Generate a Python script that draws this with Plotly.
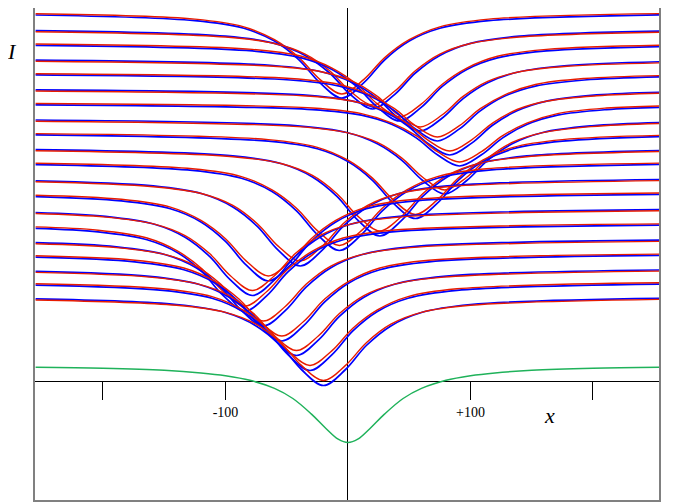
import plotly.graph_objects as go

# profiles I(x), stacked; one blue and one red curve per frame (top frame first)
xs = [
    [-255, -125, -85, -60, -40, -23, -5, 13, 30, 50, 75, 115, 255],
    [-255, -100, -60, -35, -15, 2, 20, 38, 55, 75, 100, 140, 255],
    [-255, -78, -38, -13, 7, 24, 42, 60, 77, 97, 122, 162, 255],
    [-255, -61, -21, 4, 24, 41, 59, 77, 94, 114, 139, 179, 255],
    [-255, -47, -7, 18, 38, 55, 73, 91, 108, 128, 153, 193, 255],
    [-255, -37, 3, 28, 48, 65, 83, 101, 118, 138, 163, 203, 255],
    [-255, -29, 11, 36, 56, 73, 91, 109, 126, 146, 171, 211, 255],
    [-255, -41, -1, 24, 44, 61, 79, 97, 114, 134, 159, 199, 255],
    [-255, -65, -25, 0, 20, 37, 55, 73, 90, 110, 135, 175, 255],
    [-255, -94, -54, -29, -9, 8, 26, 44, 61, 81, 106, 146, 255],
    [-255, -127, -87, -62, -42, -25, -7, 11, 28, 48, 73, 113, 255],
    [-255, -159, -119, -94, -74, -57, -39, -21, -4, 16, 41, 81, 255],
    [-255, -185, -145, -120, -100, -83, -65, -47, -30, -10, 15, 55, 255],
    [-255, -198, -158, -133, -113, -96, -78, -60, -43, -23, 2, 42, 255],
    [-255, -204, -164, -139, -119, -102, -84, -66, -49, -29, -4, 36, 255],
    [-255, -189, -149, -124, -104, -87, -69, -51, -34, -14, 11, 51, 255],
    [-255, -174, -134, -109, -89, -72, -54, -36, -19, 1, 26, 66, 255],
    [-255, -162, -122, -97, -77, -60, -42, -24, -7, 13, 38, 78, 255],
    [-255, -151, -111, -86, -66, -49, -31, -13, 4, 24, 49, 89, 255],
    [-255, -140, -100, -75, -55, -38, -20, -2, 15, 35, 60, 100, 255],
]

blue = [
    [366.0, 360.3, 352.7, 339.9, 321.2, 298.3, 283, 298.3, 321.2, 339.9, 352.7, 360.3, 366.1],
    [350.4, 344.8, 337.6, 325.6, 308, 286.4, 272, 286.4, 308, 325.6, 337.6, 344.8, 349.9],
    [335.7, 330.1, 323.1, 311.6, 294.6, 273.9, 260, 273.9, 294.6, 311.6, 323.1, 330.1, 334.5],
    [320.9, 315.5, 309, 298.2, 282.4, 263, 250, 263, 282.4, 298.2, 309, 315.5, 319.3],
    [306.1, 301, 294.9, 284.9, 270.1, 252.1, 240, 252.1, 270.1, 284.9, 294.9, 301, 304.1],
    [291.1, 286.1, 280.1, 270.2, 255.7, 237.9, 226, 237.9, 255.7, 270.2, 280.1, 286.1, 288.8],
    [276.2, 271.4, 265.8, 256.5, 242.9, 226.2, 215, 226.2, 242.9, 256.5, 265.8, 271.4, 273.7],
    [261, 255.2, 248.5, 237.2, 220.7, 200.5, 187, 200.5, 220.7, 237.2, 248.5, 255.2, 258.5],
    [246.2, 239.8, 232.2, 219.4, 200.7, 177.8, 162.5, 177.8, 200.7, 219.4, 232.2, 239.8, 244.4],
    [231.3, 225.1, 217.2, 204, 184.6, 160.8, 145, 160.8, 184.6, 204, 217.2, 225.1, 230.5],
    [216.4, 210.6, 202.7, 189.5, 170.1, 146.3, 130.5, 146.3, 170.1, 189.5, 202.7, 210.6, 216.6],
    [200.2, 195.1, 187.2, 174, 154.6, 130.8, 115, 130.8, 154.6, 174, 187.2, 195.1, 201.5],
    [184.4, 180.1, 172.2, 159, 139.6, 115.8, 100, 115.8, 139.6, 159, 172.2, 180.1, 186.7],
    [168.5, 164.7, 156.8, 143.8, 124.6, 101.2, 85.5, 101.2, 124.6, 143.8, 156.8, 164.7, 171.3],
    [152.7, 149.2, 141.3, 128.3, 109.1, 85.7, 70, 85.7, 109.1, 128.3, 141.3, 149.2, 155.9],
    [138.3, 134.2, 126.3, 113.3, 94.1, 70.7, 55, 70.7, 94.1, 113.3, 126.3, 134.2, 140.8],
    [123.9, 119.2, 111.3, 98.3, 79.1, 55.7, 40, 55.7, 79.1, 98.3, 111.3, 119.2, 125.6],
    [109.7, 104.7, 96.8, 83.8, 64.6, 41.2, 25.5, 41.2, 64.6, 83.8, 96.8, 104.7, 111],
    [95.9, 90.6, 82.7, 69.5, 50.1, 26.3, 10.5, 26.3, 50.1, 69.5, 82.7, 90.6, 96.9],
    [82.1, 76.5, 68.5, 55.1, 35.5, 11.5, -4.5, 11.5, 35.5, 55.1, 68.5, 76.5, 82.7],
]

red = [
    [367.3, 361.9, 354.2, 341.3, 323.4, 301.6, 287, 301.6, 323.4, 341.3, 354.2, 361.9, 367.4],
    [349.3, 344.0, 337.5, 326.9, 310.2, 289.7, 276, 289.7, 310.2, 326.9, 337.5, 344.0, 348.8],
    [337.0, 331.6, 324.7, 312.9, 296.8, 277.1, 264, 277.1, 296.8, 312.9, 324.7, 331.6, 335.8],
    [319.8, 314.7, 309.0, 299.6, 284.6, 266.2, 254, 266.2, 284.6, 299.6, 309.0, 314.7, 318.2],
    [307.3, 302.5, 296.5, 286.2, 272.3, 255.3, 244, 255.3, 272.3, 286.2, 296.5, 302.5, 305.4],
    [290.0, 285.2, 280.0, 271.5, 257.9, 241.2, 230, 241.2, 257.9, 271.5, 280.0, 285.2, 287.8],
    [277.5, 273.0, 267.4, 257.9, 245.1, 229.4, 219, 229.4, 245.1, 257.9, 267.4, 273.0, 275.1],
    [259.8, 254.4, 248.4, 238.6, 222.9, 203.8, 191, 203.8, 222.9, 238.6, 248.4, 254.4, 257.5],
    [247.4, 241.4, 233.7, 220.8, 202.9, 181.1, 166.5, 181.1, 202.9, 220.8, 233.7, 241.4, 245.7],
    [230.2, 224.3, 217.3, 205.6, 187.3, 164.9, 150, 164.9, 187.3, 205.6, 217.3, 224.3, 229.5],
    [217.7, 212.2, 204.4, 191.1, 172.8, 150.4, 135.5, 150.4, 172.8, 191.1, 204.4, 212.2, 217.9],
    [199.2, 194.3, 187.3, 175.6, 157.3, 134.9, 120, 134.9, 157.3, 175.6, 187.3, 194.3, 200.4],
    [185.8, 181.7, 173.9, 160.6, 142.3, 119.9, 105, 119.9, 142.3, 160.6, 173.9, 181.7, 188.0],
    [167.5, 163.9, 156.9, 145.4, 127.4, 105.3, 90.5, 105.3, 127.4, 145.4, 156.9, 163.9, 170.2],
    [154.1, 150.8, 143.0, 129.9, 111.9, 89.8, 75, 89.8, 111.9, 129.9, 143.0, 150.8, 157.1],
    [137.3, 133.4, 126.4, 114.9, 96.9, 74.8, 60, 74.8, 96.9, 114.9, 126.4, 133.4, 139.6],
    [125.2, 120.8, 113.0, 99.9, 81.9, 59.8, 45, 59.8, 81.9, 99.9, 113.0, 120.8, 126.9],
    [108.6, 103.9, 96.9, 85.4, 67.4, 45.3, 30.5, 45.3, 67.4, 85.4, 96.9, 103.9, 109.9],
    [97.3, 92.2, 84.4, 71.1, 52.8, 30.4, 15.5, 30.4, 52.8, 71.1, 84.4, 92.2, 98.2],
    [81.0, 75.7, 68.6, 56.8, 38.3, 15.6, 0.5, 15.6, 38.3, 56.8, 68.6, 75.7, 81.6],
]

# reference profile (green)
green_x = [-255, -200, -150, -120, -100, -80, -60, -45, -30, -18, -8, 0,
           8, 18, 30, 45, 60, 80, 100, 120, 150, 200, 255]
green_i = [13.7, 12.7, 10.7, 8.1, 5.3, 0.7, -7.4, -17.5, -32.9, -47.5, -58.2, -61.5,
           -58.2, -47.5, -32.9, -17.5, -7.4, 0.7, 5.3, 8.1, 10.7, 12.7, 13.7]

tick_vals = [-200, -100, 100, 200]
tick_text = ["", "-100", "+100", ""]

fig = go.Figure()

for k in range(len(xs)):
    fig.add_trace(go.Scatter(x=xs[k], y=blue[k], mode='lines',
                             line=dict(color='#0000ff', width=1.7, shape='spline', smoothing=1),
                             showlegend=False, hoverinfo='skip'))
    fig.add_trace(go.Scatter(x=xs[k], y=red[k], mode='lines',
                             line=dict(color='#e81c00', width=1.4, shape='spline', smoothing=1),
                             showlegend=False, hoverinfo='skip'))

fig.add_trace(go.Scatter(x=green_x, y=green_i, mode='lines',
                         line=dict(color='#1fb25a', width=1.5, shape='spline', smoothing=1),
                         showlegend=False, hoverinfo='skip'))

# dummy trace to carry the tick axis that sits on I = 0
fig.add_trace(go.Scatter(x=[None], y=[None], xaxis='x2', showlegend=False))

xr = [-255.5, 253.9]
yr = [-119, 373]

# the page body adds 8px around the figure, so the figure is 8px smaller
fig.update_layout(
    width=665, height=494,
    margin=dict(l=27, r=14, t=0, b=2, autoexpand=False),
    paper_bgcolor='white', plot_bgcolor='white',
    font=dict(family='Liberation Serif', color='black'),
    xaxis=dict(range=xr, showgrid=False, showticklabels=False, ticks='',
               zeroline=True, zerolinecolor='black', zerolinewidth=1,
               showline=True, mirror=True, linecolor='#808080', linewidth=2),
    yaxis=dict(range=yr, showgrid=False, showticklabels=False, ticks='',
               zeroline=True, zerolinecolor='black', zerolinewidth=1,
               showline=True, mirror=True, linecolor='#808080', linewidth=2),
    xaxis2=dict(range=xr, overlaying='x', anchor='free', position=119 / 492,
                side='bottom', showgrid=False, zeroline=False, showline=False,
                tickvals=tick_vals, ticktext=tick_text, ticks='outside',
                ticklen=18, tickwidth=1, tickcolor='black',
                tickfont=dict(family='Liberation Serif', size=14, color='black')),
    annotations=[
        dict(text='<i>I</i>', x=-0.037, y=0.911, xref='paper', yref='paper',
             xanchor='center', yanchor='middle', showarrow=False,
             font=dict(family='Liberation Serif', size=22)),
        dict(text='<i>x</i>', x=0.824, y=0.171, xref='paper', yref='paper',
             xanchor='center', yanchor='middle', showarrow=False,
             font=dict(family='Liberation Serif', size=22)),
    ],
)

fig.write_html("out.html")
